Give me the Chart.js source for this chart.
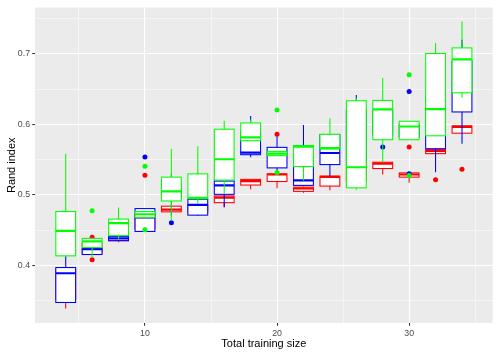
<!DOCTYPE html>
<html><head><meta charset="utf-8">
<script src="https://cdn.jsdelivr.net/npm/chart.js@4"></script>
<style>html,body{margin:0;padding:0;background:#fff}</style>
</head><body>
<canvas id="c" width="498" height="355"></canvas>
<script>
// ---------- data ----------
const sizes = [4, 6, 8, 10, 12, 14, 16, 18, 20, 22, 24, 26, 28, 30, 32, 34];

const redLow  = [0.339, 0.415, 0.4328, 0.450, 0.476, 0.474, 0.482, 0.508, 0.5093, 0.503, 0.5065, 0.515, 0.529, 0.5172, 0.5585, 0.5875];
const redQ1   = [0.352, 0.418, 0.435, 0.452, 0.476, 0.476, 0.489, 0.514, 0.519, 0.505, 0.5125, 0.520, 0.5374, 0.5252, 0.5585, 0.5875];
const redMed  = [0.385, 0.425, 0.437, 0.462, 0.4792, 0.481, 0.4961, 0.5196, 0.529, 0.509, 0.5255, 0.530, 0.5444, 0.529, 0.5625, 0.5965];
const redQ3   = [0.395, 0.432, 0.439, 0.472, 0.484, 0.486, 0.4985, 0.522, 0.5298, 0.511, 0.5266, 0.550, 0.5463, 0.5312, 0.5641, 0.5979];
const redHigh = [0.397, 0.434, 0.440, 0.478, 0.484, 0.488, 0.4985, 0.522, 0.532, 0.512, 0.5266, 0.560, 0.5463, 0.5312, 0.5641, 0.5979];
const redOutX = [6, 6, 10, 20, 30, 32, 34];
const redOutY = [0.440, 0.408, 0.528, 0.586, 0.5678, 0.5214, 0.5364];

const blueLow  = [0.3475, 0.4155, 0.4352, 0.4482, 0.470, 0.470, 0.483, 0.5533, 0.532, 0.513, 0.5266, 0.530, 0.580, 0.580, 0.5322, 0.5726];
const blueQ1   = [0.3475, 0.4155, 0.4352, 0.4482, 0.495, 0.4713, 0.5008, 0.557, 0.5383, 0.5135, 0.543, 0.550, 0.585, 0.582, 0.5655, 0.6176];
const blueMed  = [0.389, 0.4230, 0.4384, 0.468, 0.505, 0.4858, 0.5135, 0.560, 0.558, 0.5205, 0.5594, 0.580, 0.600, 0.590, 0.600, 0.660];
const blueQ3   = [0.397, 0.4237, 0.4412, 0.4806, 0.515, 0.4938, 0.5196, 0.590, 0.5674, 0.555, 0.5855, 0.620, 0.620, 0.600, 0.640, 0.690];
const blueHigh = [0.413, 0.425, 0.4412, 0.4806, 0.530, 0.531, 0.5196, 0.612, 0.5828, 0.599, 0.5855, 0.6415, 0.630, 0.603, 0.680, 0.720];
const blueOutX = [10, 12, 28, 30, 30];
const blueOutY = [0.5537, 0.4605, 0.5678, 0.6466, 0.530];

const greenLow  = [0.412, 0.4108, 0.437, 0.468, 0.4633, 0.487, 0.502, 0.576, 0.5557, 0.5205, 0.565, 0.5074, 0.546, 0.5782, 0.5838, 0.638];
const greenQ1   = [0.4136, 0.4253, 0.4422, 0.468, 0.4914, 0.4945, 0.521, 0.5768, 0.5557, 0.5402, 0.5652, 0.510, 0.5782, 0.5782, 0.5838, 0.6447];
const greenMed  = [0.449, 0.4342, 0.460, 0.4725, 0.505, 0.496, 0.5505, 0.5816, 0.5585, 0.5685, 0.5664, 0.5392, 0.6212, 0.5969, 0.6217, 0.6921];
const greenQ3   = [0.4764, 0.4384, 0.4657, 0.4765, 0.5252, 0.5298, 0.5931, 0.602, 0.5617, 0.570, 0.586, 0.6335, 0.6339, 0.6044, 0.7005, 0.7084];
const greenHigh = [0.5585, 0.4384, 0.482, 0.4765, 0.5655, 0.5688, 0.605, 0.607, 0.5617, 0.570, 0.6086, 0.638, 0.6658, 0.6044, 0.7155, 0.746];
const greenOutX = [6, 10, 10, 20, 20, 30, 30];
const greenOutY = [0.4774, 0.5406, 0.4506, 0.6204, 0.5318, 0.6705, 0.5276];

const xMajorTicks = [10, 20, 30];
const xMinorTicks = [5, 15, 25, 35];
const yMajorTicks = [0.4, 0.5, 0.6, 0.7];
const yMinorTicks = [0.35, 0.45, 0.55, 0.65, 0.75];

const xTitle = 'Total training size';
const yTitle = 'Rand index';

// ---------- styling ----------
const FONT = "'Liberation Sans', Arial, Helvetica, sans-serif";
const BOX_W = 1.5;
const LW = 1.07;

const series = [
  {color: '#FF0000', low: redLow, q1: redQ1, med: redMed, q3: redQ3, high: redHigh, ox: redOutX, oy: redOutY},
  {color: '#0000FF', low: blueLow, q1: blueQ1, med: blueMed, q3: blueQ3, high: blueHigh, ox: blueOutX, oy: blueOutY},
  {color: '#00FF00', low: greenLow, q1: greenQ1, med: greenMed, q3: greenQ3, high: greenHigh, ox: greenOutX, oy: greenOutY}
];

const isIn = (arr, v) => arr.some(a => Math.abs(a - v) < 1e-9);

const bgPlugin = {
  id: 'panelBg',
  beforeDraw(chart) {
    const {ctx, chartArea: a} = chart;
    ctx.save();
    ctx.fillStyle = '#EBEBEB';
    ctx.fillRect(a.left, a.top, a.right - a.left, a.bottom - a.top);
    ctx.restore();
  }
};

const boxPlugin = {
  id: 'boxes',
  afterDatasetsDraw(chart) {
    const {ctx, chartArea: a, scales: {x, y}} = chart;
    ctx.save();
    ctx.beginPath();
    ctx.rect(a.left, a.top, a.right - a.left, a.bottom - a.top);
    ctx.clip();
    series.forEach(s => {
      // outliers
      ctx.fillStyle = s.color;
      s.ox.forEach((xv, k) => {
        ctx.beginPath();
        ctx.arc(x.getPixelForValue(xv), y.getPixelForValue(s.oy[k]), 2.5, 0, Math.PI * 2);
        ctx.fill();
      });
      sizes.forEach((pos, i) => {
        const xc = x.getPixelForValue(pos);
        const xl = x.getPixelForValue(pos - BOX_W / 2);
        const xr = x.getPixelForValue(pos + BOX_W / 2);
        const yLow = y.getPixelForValue(s.low[i]);
        const yQ1 = y.getPixelForValue(s.q1[i]);
        const yMed = y.getPixelForValue(s.med[i]);
        const yQ3 = y.getPixelForValue(s.q3[i]);
        const yHigh = y.getPixelForValue(s.high[i]);
        ctx.strokeStyle = s.color;
        ctx.lineWidth = LW;
        ctx.beginPath();
        ctx.moveTo(xc, yQ3); ctx.lineTo(xc, yHigh);
        ctx.moveTo(xc, yQ1); ctx.lineTo(xc, yLow);
        ctx.stroke();
        ctx.fillStyle = '#FFFFFF';
        ctx.fillRect(xl, yQ3, xr - xl, yQ1 - yQ3);
        ctx.strokeRect(xl, yQ3, xr - xl, yQ1 - yQ3);
        ctx.lineWidth = LW * 2;
        ctx.beginPath();
        ctx.moveTo(xl, yMed); ctx.lineTo(xr, yMed);
        ctx.stroke();
      });
    });
    ctx.restore();
  }
};

const xAll = xMinorTicks.concat(xMajorTicks).sort((a, b) => a - b);
const yAll = yMinorTicks.concat(yMajorTicks).sort((a, b) => a - b);

new Chart(document.getElementById('c'), {
  type: 'scatter',
  data: {datasets: []},
  options: {
    responsive: false,
    animation: false,
    devicePixelRatio: 1,
    layout: {padding: {top: 5, right: 5.3, left: 0, bottom: 0}},
    plugins: {legend: {display: false}, tooltip: {enabled: false}},
    scales: {
      x: {
        type: 'linear', min: 1.675, max: 36.325,
        afterBuildTicks: s => { s.ticks = xAll.map(v => ({value: v})); },
        afterFit: s => { s.height = 32; },
        ticks: {
          autoSkip: false, maxRotation: 0, minRotation: 0, padding: 2.2,
          color: '#4D4D4D', font: {size: 8.8, family: FONT},
          callback: v => isIn(xMajorTicks, v) ? String(v) : ''
        },
        grid: {
          color: '#FFFFFF',
          lineWidth: c => isIn(xMajorTicks, c.tick.value) ? 1.07 : 0.53,
          tickColor: c => isIn(xMajorTicks, c.tick.value) ? '#333333' : 'rgba(0,0,0,0)',
          tickLength: 2.75, tickWidth: 1.07, drawTicks: true
        },
        border: {display: false},
        title: {display: true, text: xTitle, color: '#000000', font: {size: 11, family: FONT}, padding: {top: 0, bottom: 4.9}}
      },
      y: {
        type: 'linear', min: 0.3184, max: 0.7657,
        afterBuildTicks: s => { s.ticks = yAll.map(v => ({value: v})); },
        afterFit: s => { s.width = 35; },
        ticks: {
          autoSkip: false, padding: 2.2,
          color: '#4D4D4D', font: {size: 8.8, family: FONT},
          callback: v => isIn(yMajorTicks, v) ? v.toFixed(1) : ''
        },
        grid: {
          color: '#FFFFFF',
          lineWidth: c => isIn(yMajorTicks, c.tick.value) ? 1.07 : 0.53,
          tickColor: c => isIn(yMajorTicks, c.tick.value) ? '#333333' : 'rgba(0,0,0,0)',
          tickLength: 2.75, tickWidth: 1.07, drawTicks: true
        },
        border: {display: false},
        title: {display: true, text: yTitle, color: '#000000', font: {size: 11, family: FONT}, padding: {top: 5.4, bottom: 0}}
      }
    }
  },
  plugins: [bgPlugin, boxPlugin]
});
</script>
</body></html>
